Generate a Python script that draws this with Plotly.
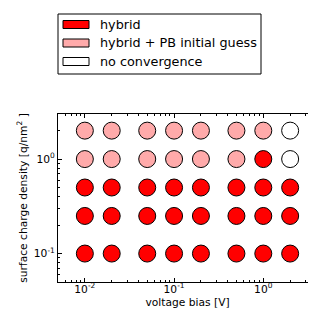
import plotly.graph_objects as go

voltage = [0.01, 0.02, 0.05, 0.1, 0.2, 0.5, 1.0, 2.0]
charge = [0.1, 0.25, 0.5, 1.0, 2.0]
# status per charge row (same order as charge), per voltage column
status = [
    ["h", "h", "h", "h", "h", "h", "h", "h"],
    ["h", "h", "h", "h", "h", "h", "h", "h"],
    ["h", "h", "h", "h", "h", "h", "h", "h"],
    ["p", "p", "p", "p", "p", "p", "h", "n"],
    ["p", "p", "p", "p", "p", "p", "p", "n"],
]
labels = {"h": "hybrid", "p": "hybrid + PB initial guess", "n": "no convergence"}
colors = {"h": "#ff0000", "p": "#ffaaaa", "n": "#ffffff"}
order = ["h", "p", "n"]
x_tickvals = [0.01, 0.1, 1.0]
x_ticktext = ["10<sup>-2</sup>", "10<sup>-1</sup>", "10<sup>0</sup>"]
y_tickvals = [0.1, 1.0]
y_ticktext = ["10<sup>-1</sup>", "10<sup>0</sup>"]
decades = [0.001, 0.01, 0.1, 1.0]
mantissas = [2, 3, 4, 5, 6, 7, 8, 9]
minor_vals = [d * m for d in decades for m in mantissas]

fig = go.Figure()
for k in order:
    xs, ys = [], []
    for i, c in enumerate(charge):
        for j, v in enumerate(voltage):
            if status[i][j] == k:
                xs.append(v)
                ys.append(c)
    fig.add_trace(go.Scatter(
        x=xs, y=ys, mode="markers", name=labels[k], showlegend=False,
        marker=dict(size=17, color=colors[k], line=dict(color="black", width=1)),
    ))

font = dict(family="DejaVu Sans", size=10.7, color="black")
axis_common = dict(
    type="log", ticks="inside", ticklen=4, tickwidth=1, tickcolor="black",
    mirror="allticks", showline=True, linecolor="black", linewidth=1,
    showgrid=False, zeroline=False,
    tickfont=font,
    minor=dict(ticks="inside", ticklen=2, tickcolor="black", showgrid=False,
               tickmode="array", tickvals=minor_vals),
)
fig.update_xaxes(range=[-2.301, 0.602], tickvals=x_tickvals, ticktext=x_ticktext,
                 ticklabelstandoff=-3,
                 title=dict(text="voltage bias [V]", font=font, standoff=0), **axis_common)
fig.update_yaxes(range=[-1.301, 0.477], tickvals=y_tickvals, ticktext=y_ticktext,
                 title=dict(text="surface charge density [q/nm<sup>2</sup> ]", font=font, standoff=4), **axis_common)

# manual matplotlib-style legend (pixel geometry in paper coordinates)
W, H = 316, 316
L, R, T, B = 50, 7, 106, 42
pw, ph = W - L - R, H - T - B

def px(x):
    return (x - L) / pw

def py(y):
    return (H - B - y) / ph

shapes = [dict(type="rect", xref="paper", yref="paper",
               x0=px(50), x1=px(253), y0=py(66), y1=py(6),
               line=dict(color="black", width=1), fillcolor="white")]
annotations = []
rows_y = [16.5, 35, 53.5]
for k, yc in zip(order, rows_y):
    shapes.append(dict(type="rect", xref="paper", yref="paper",
                       x0=px(55), x1=px(81), y0=py(yc + 4), y1=py(yc - 4),
                       line=dict(color="black", width=1), fillcolor=colors[k]))
    annotations.append(dict(xref="paper", yref="paper", x=px(90), y=py(yc),
                            text=labels[k], showarrow=False, xanchor="left",
                            yanchor="middle", font=dict(family="DejaVu Sans", size=12.8, color="black")))

fig.update_layout(
    width=W, height=H, margin=dict(l=L, r=R, t=T, b=B, autoexpand=False),
    paper_bgcolor="white", plot_bgcolor="white", showlegend=False,
    shapes=shapes, annotations=annotations, font=font,
)
fig.write_html("out.html")
